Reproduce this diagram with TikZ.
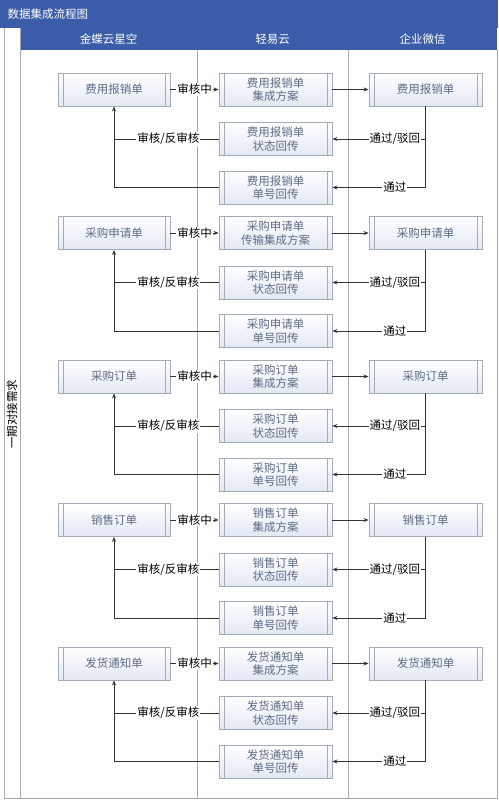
\documentclass[tikz,border=0pt]{standalone}
\usepackage{fontspec}
\setmainfont{Noto Sans CJK SC}
\usetikzlibrary{arrows.meta,calc}
\definecolor{hdrblue}{HTML}{3B5DA9}
\definecolor{lanegray}{HTML}{A8A8A8}
\definecolor{boxtext}{HTML}{5E6C86}
\definecolor{boxborder}{HTML}{A3AAB8}
\definecolor{boxfill}{HTML}{E2E8F3}
\definecolor{linecol}{HTML}{333333}
\tikzset{
  proc/.style={draw=boxborder, line width=0.9pt, top color=white, bottom color=boxfill,
    minimum width=112pt, minimum height=33pt, text=boxtext,
    font=\fontsize{11.5pt}{13.5pt}\selectfont, align=center, inner sep=0pt,
    path picture={
      \draw[boxborder, line width=0.8pt] ([xshift=5pt]path picture bounding box.north west) -- ([xshift=5pt]path picture bounding box.south west);
      \draw[boxborder, line width=0.8pt] ([xshift=-5pt]path picture bounding box.north east) -- ([xshift=-5pt]path picture bounding box.south east);
    }},
  conn/.style={draw=linecol, line width=0.7pt},
  arr/.style={conn, -{Stealth[length=5pt,width=4pt]}},
  lbl/.style={fill=white, inner sep=1pt, text=black, font=\fontsize{11.5pt}{13pt}\selectfont},
  hdr/.style={text=white, font=\fontsize{11.5pt}{13pt}\selectfont},
  lane/.style={draw=lanegray, line width=0.8pt}
}
\begin{document}
\begin{tikzpicture}[x=1pt,y=-1pt]
\useasboundingbox (0,0) rectangle (498,800);
\fill[white] (0,0) rectangle (498,800);
% title bar and header
\fill[hdrblue] (0,0) rectangle (498,28);
\fill[hdrblue] (20,28) rectangle (497,50);
\node[hdr, anchor=west] (title) at (4,14) {数据集成流程图};
\node[hdr] (h1) at (108.5,39) {金蝶云星空};
\node[hdr] (h2) at (272.5,39) {轻易云};
\node[hdr] (h3) at (422.5,39) {企业微信};
% pool
\draw[lane] (4,28) -- (4,798) -- (497,798) -- (497,50);
\draw[lane] (20,28) -- (20,798);
\draw[lane] (197,50) -- (197,798);
\draw[lane] (348,50) -- (348,798);
\node[rotate=90, text=black, font=\fontsize{11.5pt}{13pt}\selectfont] (pool) at (12,414) {一期对接需求};
% groups
\foreach \k/\n/\t in {0/费用报销单/集成方案, 1/采购申请单/传输集成方案, 2/采购订单/集成方案, 3/销售订单/集成方案, 4/发货通知单/集成方案}{
  \pgfmathsetmacro\ya{89.5+143.5*\k}
  \pgfmathsetmacro\yb{139+143.5*\k}
  \pgfmathsetmacro\yc{187.5+143.5*\k}
  \node[proc] (l\k) at (114,\ya) {\n};
  \node[proc, minimum width=113pt] (ma\k) at (275.5,\ya) {\n\\\t};
  \node[proc, minimum width=113pt] (mb\k) at (275.5,\yb) {\n\\状态回传};
  \node[proc, minimum width=113pt] (mc\k) at (275.5,\yc) {\n\\单号回传};
  \node[proc, minimum width=113pt] (r\k) at (425.5,\ya) {\n};
  \coordinate (rb\k) at (r\k.south |- mb\k.east);
  \coordinate (rc\k) at (r\k.south |- mc\k.east);
  \coordinate (lb\k) at (l\k.south |- mb\k.west);
  \coordinate (lc\k) at (l\k.south |- mc\k.west);
  \draw[arr] (l\k.east) -- node[lbl] {审核中} (ma\k.west);
  \draw[arr] (ma\k.east) -- (r\k.west);
  \draw[conn] (r\k.south) -- (rc\k);
  \draw[arr] (rc\k) -- node[lbl, pos=0.33] {通过} (mc\k.east);
  \draw[arr] (rb\k) -- node[lbl, pos=0.33] {通过/驳回} (mb\k.east);
  \draw[conn] (mb\k.west) -- node[lbl, pos=0.48] {审核/反审核} (lb\k);
  \draw[arr] (mc\k.west) -- (lc\k) -- (l\k.south);
}
\end{tikzpicture}
\end{document}
